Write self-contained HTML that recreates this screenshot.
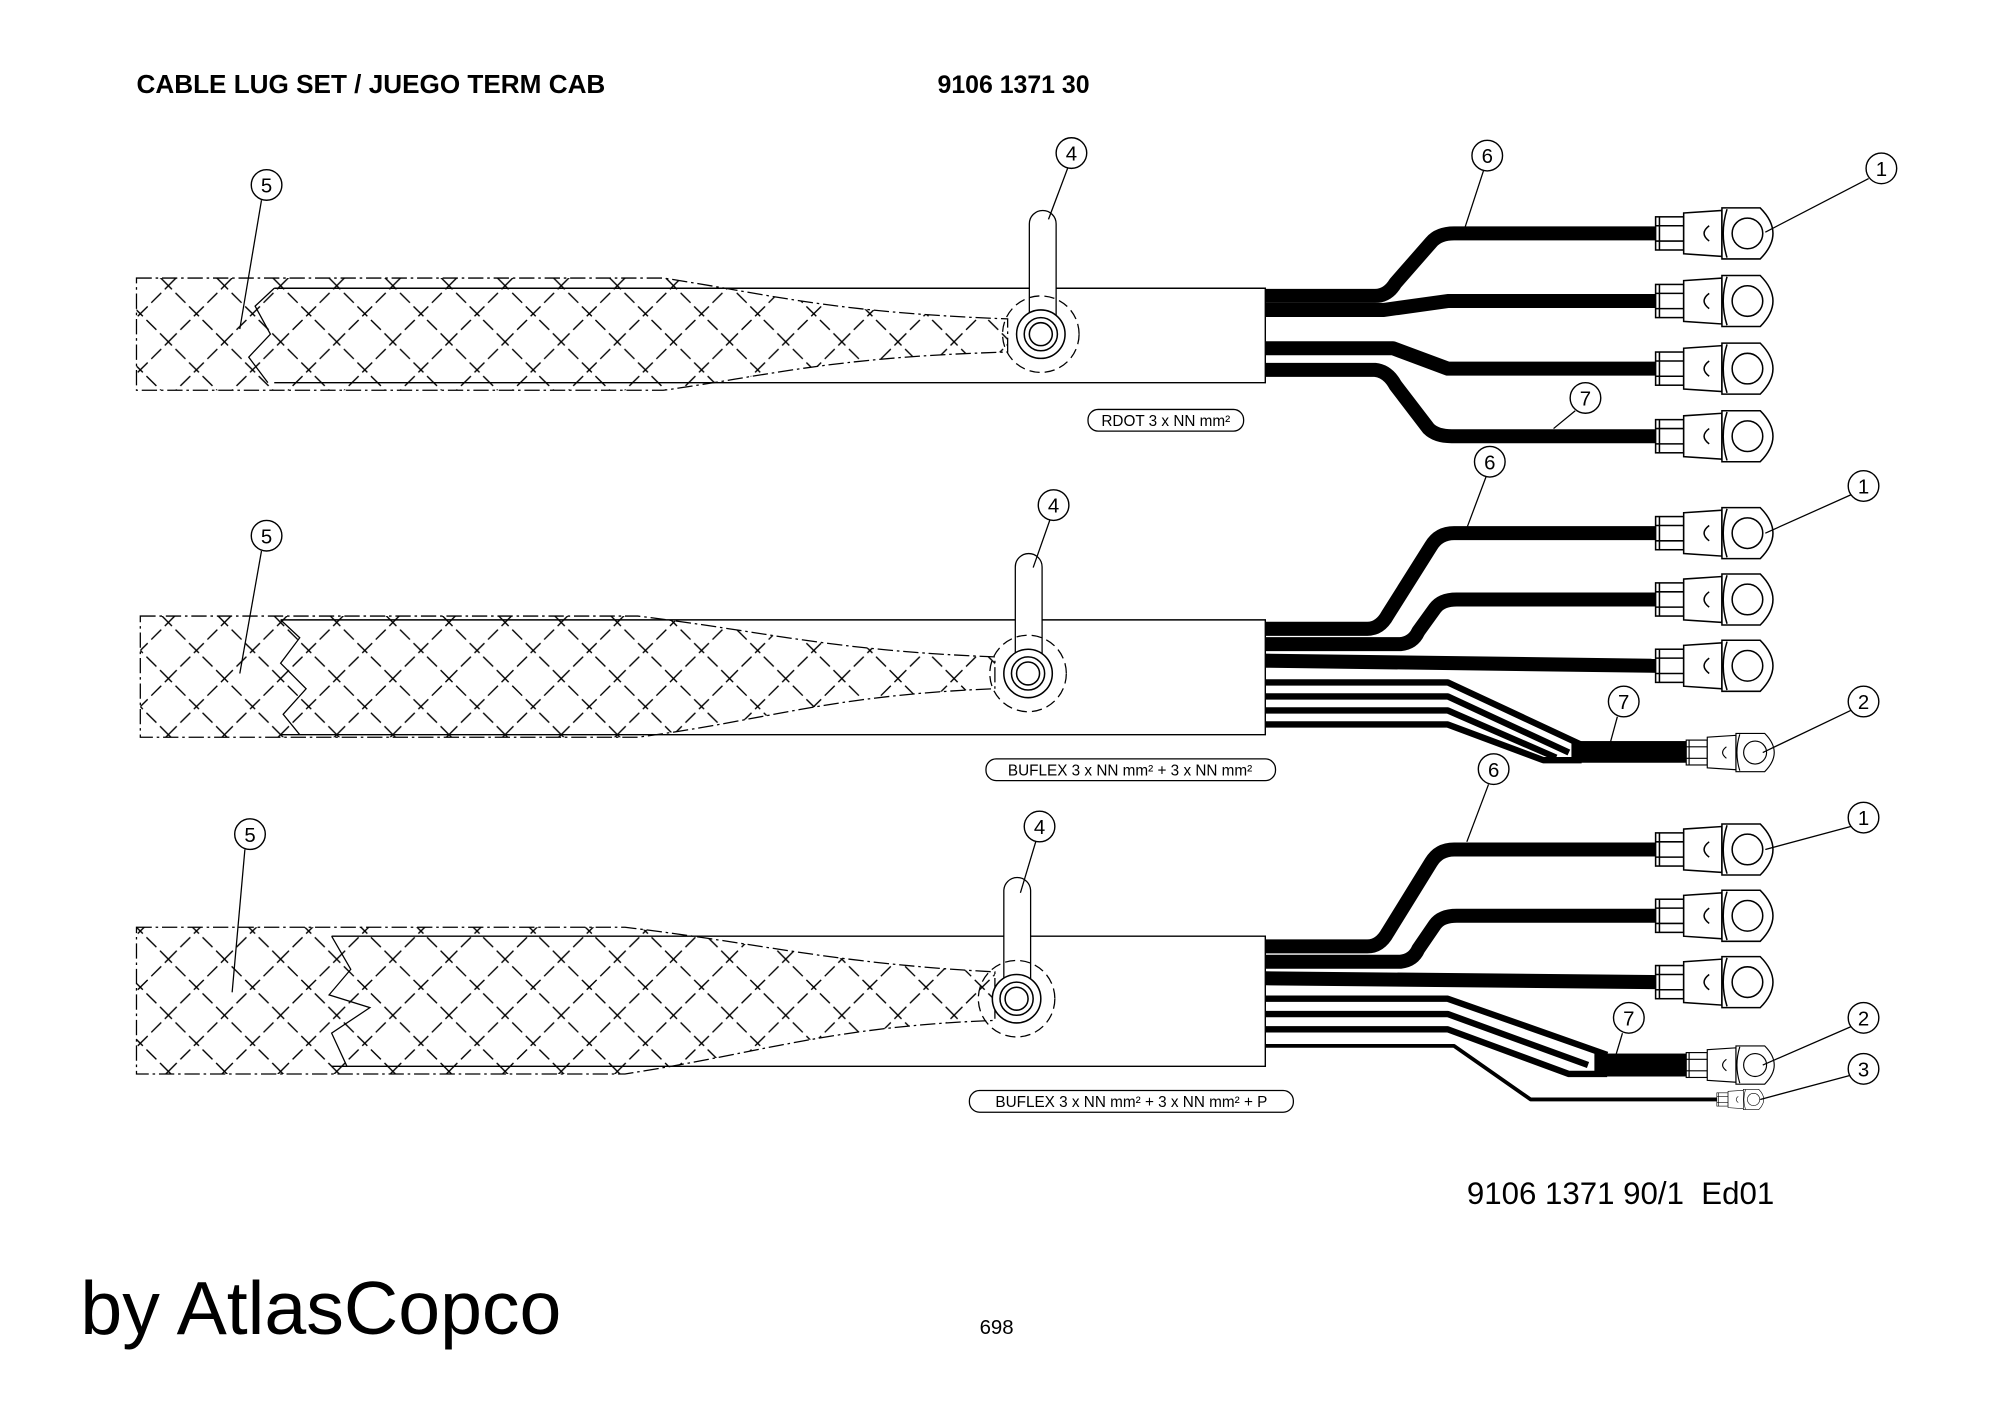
<!DOCTYPE html>
<html><head><meta charset="utf-8"><style>
html,body{margin:0;padding:0;background:#fff;}
svg{display:block;}
text{font-family:"Liberation Sans",sans-serif;}
.t{font-family:"Liberation Sans Narrow","Liberation Sans",sans-serif;}
</style></head><body>
<svg width="2000" height="1414" viewBox="0 0 1568 1108.6" preserveAspectRatio="none" xmlns="http://www.w3.org/2000/svg">
<defs>
<pattern id="hatch" width="44" height="44" patternUnits="userSpaceOnUse" patternTransform="translate(0,4)">
<path d="M-5,-5 L49,49 M-5,39 L5,49 M39,-5 L49,5 M49,-5 L-5,49 M-5,5 L5,-5 M39,49 L49,39" stroke="#000" stroke-width="1.1" stroke-dasharray="11,4" fill="none"/>
</pattern>
<g id="lug" fill="#fff" stroke="#000" stroke-width="1.2">
<rect x="0" y="-13" width="22" height="26"/>
<line x1="3" y1="-13" x2="3" y2="13"/><line x1="0" y1="-6" x2="22" y2="-6"/><line x1="0" y1="6" x2="22" y2="6"/>
<path d="M22,-16 L52,-18 L52,18 L22,16 Z"/>
<path d="M52,-20 L82,-20 Q92,-10 92,0 Q92,10 82,20 L52,20 Z"/>
<path d="M56,-19 Q50,0 56,19" fill="none"/>
<circle cx="72" cy="0" r="12"/>
<path d="M42,-6 Q34,0 42,6" fill="none"/>
</g>
<g id="lab">
<circle r="12" fill="#fff" stroke="#000" stroke-width="1.1"/>
</g>
</defs>

<text x="107" y="73" font-size="20.5" font-weight="bold">CABLE LUG SET / JUEGO TERM CAB</text>
<text x="735" y="73" font-size="19.5" font-weight="bold">9106 1371 30</text>

<!-- ============ CABLE 1 ============ -->
<g>
<path d="M107,218 L520,218 C600,230 650,245 790,250 L790,276 C650,280 600,295 520,306 L107,306 Z" fill="url(#hatch)" stroke="#000" stroke-width="1" stroke-dasharray="12,3,2,3"/>
<path d="M215,226 L992,226 L992,300 L215,300" fill="none" stroke="#000" stroke-width="1.1"/>
<path d="M215,226 L200,240 L212,262 L195,280 L210,300" fill="none" stroke="#000" stroke-width="1"/>
<rect x="807" y="165" width="21" height="92" rx="10.5" fill="#fff" stroke="#000" stroke-width="1"/>
<circle cx="816" cy="262" r="30" fill="none" stroke="#000" stroke-width="1" stroke-dasharray="8,4"/>
<circle cx="816" cy="262" r="19" fill="#fff" stroke="#000" stroke-width="1.2"/>
<circle cx="816" cy="262" r="13" fill="none" stroke="#000" stroke-width="1.2"/>
<circle cx="816" cy="262" r="9" fill="none" stroke="#000" stroke-width="1.2"/>
<g fill="none" stroke="#000" stroke-width="11" stroke-linejoin="round">
<path d="M992,232 L1078,232 Q1088,232 1094,222 L1122,190 Q1128,183 1140,183 L1300,183"/>
<path d="M992,243 L1085,243 L1135,236 L1300,236"/>
<path d="M992,273 L1092,273 L1135,289 L1300,289"/>
<path d="M992,290 L1078,290 Q1088,291 1094,302 L1120,336 Q1126,342 1138,342 L1300,342"/>
</g>
<use href="#lug" x="1298" y="183"/><use href="#lug" x="1298" y="236"/><use href="#lug" x="1298" y="289"/><use href="#lug" x="1298" y="342"/>
<rect x="853" y="321" width="122" height="17" rx="8" fill="#fff" stroke="#000"/>
<text class="t" x="914" y="334" font-size="12" text-anchor="middle">RDOT 3 x NN mm²</text>
<g stroke="#000" stroke-width="1"><line x1="205" y1="157" x2="188" y2="258"/><line x1="837" y1="132" x2="822" y2="172"/><line x1="1163" y1="134" x2="1148" y2="180"/><line x1="1465" y1="140" x2="1384" y2="182"/><line x1="1235" y1="322" x2="1218" y2="336"/></g>
<use href="#lab" x="209" y="145"/><text x="209" y="151" font-size="16" text-anchor="middle">5</text>
<use href="#lab" x="840" y="120"/><text x="840" y="126" font-size="16" text-anchor="middle">4</text>
<use href="#lab" x="1166" y="122"/><text x="1166" y="128" font-size="16" text-anchor="middle">6</text>
<use href="#lab" x="1475" y="132"/><text x="1475" y="138" font-size="16" text-anchor="middle">1</text>
<use href="#lab" x="1243" y="312"/><text x="1243" y="318" font-size="16" text-anchor="middle">7</text>
</g>

<!-- ============ CABLE 2 ============ -->
<g>
<path d="M110,483 L500,483 C600,495 650,510 780,515 L780,540 C650,545 600,565 500,578 L110,578 Z" fill="url(#hatch)" stroke="#000" stroke-width="1" stroke-dasharray="12,3,2,3"/>
<path d="M220,486 L992,486 L992,576 L220,576" fill="none" stroke="#000" stroke-width="1.1"/>
<path d="M220,486 L235,500 L220,520 L240,540 L222,560 L235,576" fill="none" stroke="#000" stroke-width="1"/>
<rect x="796" y="434" width="21" height="92" rx="10.5" fill="#fff" stroke="#000" stroke-width="1"/>
<circle cx="806" cy="528" r="30" fill="none" stroke="#000" stroke-width="1" stroke-dasharray="8,4"/>
<circle cx="806" cy="528" r="19" fill="#fff" stroke="#000" stroke-width="1.2"/>
<circle cx="806" cy="528" r="13" fill="none" stroke="#000" stroke-width="1.2"/>
<circle cx="806" cy="528" r="9" fill="none" stroke="#000" stroke-width="1.2"/>
<g fill="none" stroke="#000" stroke-width="11" stroke-linejoin="round">
<path d="M992,493 L1072,493 Q1082,493 1088,482 L1122,428 Q1128,418 1140,418 L1300,418"/>
<path d="M992,505 L1098,505 Q1108,504 1112,495 L1125,477 Q1130,470 1142,470 L1300,470"/>
<path d="M992,518 L1300,522"/>
</g>
<use href="#lug" x="1298" y="418"/><use href="#lug" x="1298" y="470"/><use href="#lug" x="1298" y="522"/>
<g fill="none" stroke="#000" stroke-width="5" stroke-linejoin="round">
<path d="M992,535 L1135,535 L1240,584"/>
<path d="M992,546 L1135,546 L1230,590"/>
<path d="M992,557 L1135,557 L1220,594"/>
<path d="M992,568 L1135,568 L1210,596 L1240,596"/>
</g>
<rect x="1232" y="581" width="92" height="17" fill="#000"/>
<g transform="translate(1322,590) scale(0.75)"><use href="#lug"/></g>
<rect x="773" y="595" width="227" height="17" rx="8" fill="#fff" stroke="#000"/>
<text class="t" x="886" y="608" font-size="12" text-anchor="middle">BUFLEX 3 x NN mm² + 3 x NN mm²</text>
<g stroke="#000" stroke-width="1"><line x1="205" y1="432" x2="188" y2="528"/><line x1="823" y1="408" x2="810" y2="445"/><line x1="1165" y1="374" x2="1150" y2="414"/><line x1="1451" y1="388" x2="1384" y2="418"/><line x1="1268" y1="562" x2="1262" y2="584"/><line x1="1451" y1="557" x2="1382" y2="590"/></g>
<use href="#lab" x="209" y="420"/><text x="209" y="426" font-size="16" text-anchor="middle">5</text>
<use href="#lab" x="826" y="396"/><text x="826" y="402" font-size="16" text-anchor="middle">4</text>
<use href="#lab" x="1168" y="362"/><text x="1168" y="368" font-size="16" text-anchor="middle">6</text>
<use href="#lab" x="1461" y="381"/><text x="1461" y="387" font-size="16" text-anchor="middle">1</text>
<use href="#lab" x="1273" y="550"/><text x="1273" y="556" font-size="16" text-anchor="middle">7</text>
<use href="#lab" x="1461" y="550"/><text x="1461" y="556" font-size="16" text-anchor="middle">2</text>
</g>

<!-- ============ CABLE 3 ============ -->
<g>
<path d="M107,727 L490,727 C600,740 650,755 780,762 L780,800 C650,805 600,825 490,842 L107,842 Z" fill="url(#hatch)" stroke="#000" stroke-width="1" stroke-dasharray="12,3,2,3"/>
<path d="M260,734 L992,734 L992,836 L260,836" fill="none" stroke="#000" stroke-width="1.1"/>
<path d="M260,734 L275,760 L258,780 L290,790 L260,810 L272,836" fill="none" stroke="#000" stroke-width="1"/>
<rect x="787" y="688" width="21" height="95" rx="10.5" fill="#fff" stroke="#000" stroke-width="1"/>
<circle cx="797" cy="783" r="30" fill="none" stroke="#000" stroke-width="1" stroke-dasharray="8,4"/>
<circle cx="797" cy="783" r="19" fill="#fff" stroke="#000" stroke-width="1.2"/>
<circle cx="797" cy="783" r="13" fill="none" stroke="#000" stroke-width="1.2"/>
<circle cx="797" cy="783" r="9" fill="none" stroke="#000" stroke-width="1.2"/>
<g fill="none" stroke="#000" stroke-width="11" stroke-linejoin="round">
<path d="M992,742 L1072,742 Q1082,742 1088,731 L1122,676 Q1128,666 1140,666 L1300,666"/>
<path d="M992,754 L1098,754 Q1108,753 1112,744 L1125,725 Q1130,718 1142,718 L1300,718"/>
<path d="M992,767 L1300,770"/>
</g>
<use href="#lug" x="1298" y="666"/><use href="#lug" x="1298" y="718"/><use href="#lug" x="1298" y="770"/>
<g fill="none" stroke="#000" stroke-width="5" stroke-linejoin="round">
<path d="M992,783 L1135,783 L1260,827"/>
<path d="M992,795 L1135,795 L1245,835"/>
<path d="M992,807 L1135,807 L1230,842 L1260,842"/>
</g>
<rect x="1250" y="826" width="76" height="18" fill="#000"/>
<path d="M992,820 L1140,820 L1200,862 L1348,862" fill="none" stroke="#000" stroke-width="3" stroke-linejoin="round"/>
<g transform="translate(1322,835) scale(0.75)"><use href="#lug"/></g>
<g transform="translate(1346,862) scale(0.4)"><use href="#lug"/></g>
<rect x="760" y="855" width="254" height="17" rx="8" fill="#fff" stroke="#000"/>
<text class="t" x="887" y="868" font-size="12" text-anchor="middle">BUFLEX 3 x NN mm² + 3 x NN mm² + P</text>
<g stroke="#000" stroke-width="1"><line x1="192" y1="666" x2="182" y2="778"/><line x1="812" y1="660" x2="800" y2="700"/><line x1="1167" y1="615" x2="1150" y2="660"/><line x1="1451" y1="648" x2="1384" y2="666"/><line x1="1272" y1="810" x2="1266" y2="830"/><line x1="1451" y1="805" x2="1382" y2="835"/><line x1="1451" y1="843" x2="1380" y2="862"/></g>
<use href="#lab" x="196" y="654"/><text x="196" y="660" font-size="16" text-anchor="middle">5</text>
<use href="#lab" x="815" y="648"/><text x="815" y="654" font-size="16" text-anchor="middle">4</text>
<use href="#lab" x="1171" y="603"/><text x="1171" y="609" font-size="16" text-anchor="middle">6</text>
<use href="#lab" x="1461" y="641"/><text x="1461" y="647" font-size="16" text-anchor="middle">1</text>
<use href="#lab" x="1277" y="798"/><text x="1277" y="804" font-size="16" text-anchor="middle">7</text>
<use href="#lab" x="1461" y="798"/><text x="1461" y="804" font-size="16" text-anchor="middle">2</text>
<use href="#lab" x="1461" y="838"/><text x="1461" y="844" font-size="16" text-anchor="middle">3</text>
</g>

<text x="1150" y="944" font-size="24.5" xml:space="preserve">9106 1371 90/1  Ed01</text>
<text x="63" y="1046" font-size="59">by AtlasCopco</text>
<text x="768" y="1046" font-size="16">698</text>
</svg>
</body></html>
